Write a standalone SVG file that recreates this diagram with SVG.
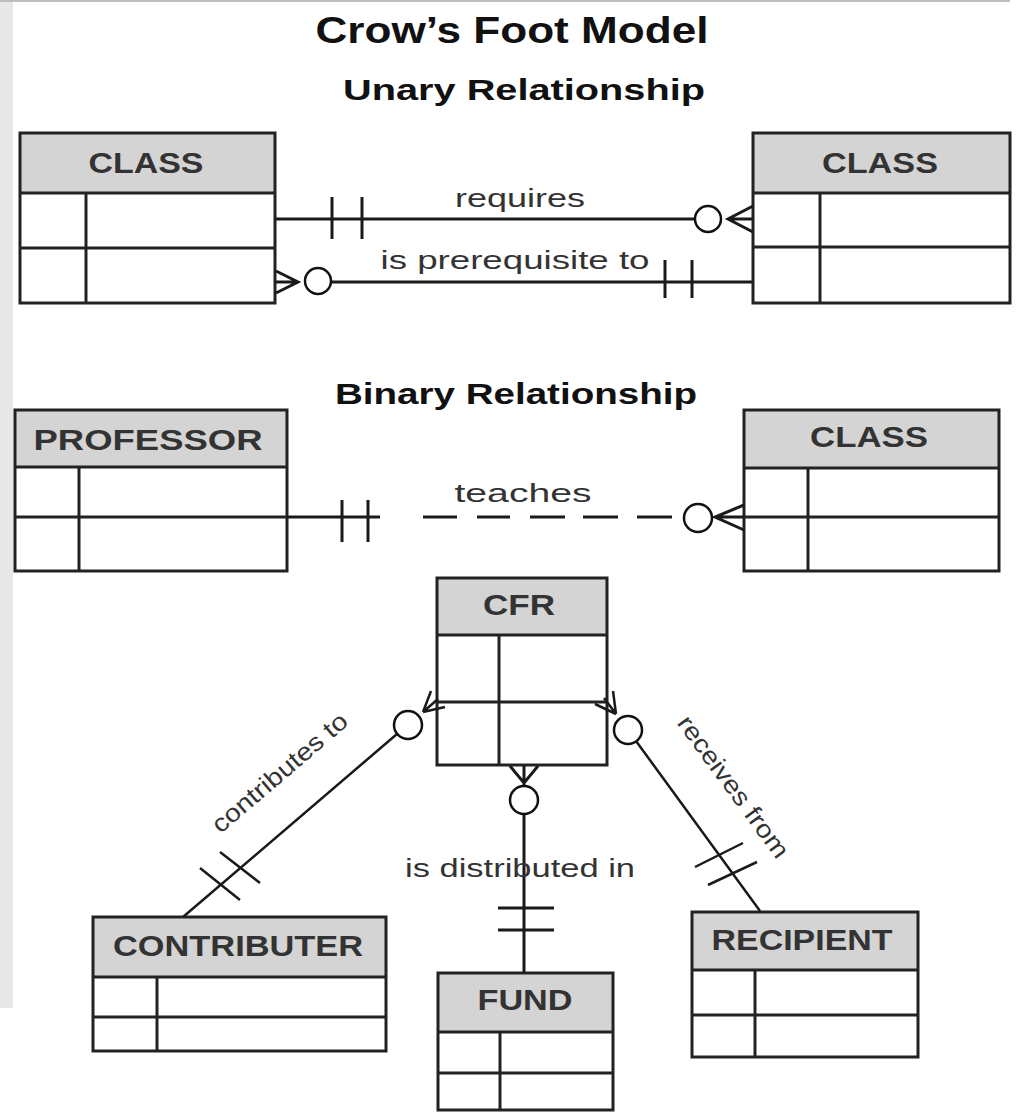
<svg xmlns="http://www.w3.org/2000/svg" width="1021" height="1115" viewBox="0 0 1021 1115">
<style>
.bg{fill:#fff}
.hdr{fill:#d4d4d4;stroke:none}
.body{fill:#fff;stroke:none}
.bx{fill:none;stroke:#222;stroke-width:3}
.ln{stroke:#222;stroke-width:3}
.conn{stroke:#1a1a1a;stroke-width:3;fill:none}
.thin{stroke:#1a1a1a;stroke-width:2.5;fill:none}
.circ{fill:#fff;stroke:#111;stroke-width:2.5}
.title{font-family:"Liberation Sans",Arial,sans-serif;font-weight:bold;fill:#111;text-anchor:middle}
.ent{font-family:"Liberation Sans",Arial,sans-serif;font-weight:bold;font-size:29px;fill:#333;text-anchor:middle}
.lbl{font-family:"Liberation Sans",Arial,sans-serif;font-size:25px;fill:#333;text-anchor:middle}
</style>
<rect class="bg" x="0" y="0" width="1021" height="1115"/>
<rect x="0" y="0" width="13" height="1008" fill="#e8e8e8"/>
<rect x="0" y="0" width="1010" height="2" fill="#bdbdbd"/>

<g id="titles">
<text class="title" x="512" y="43" font-size="36" textLength="393" lengthAdjust="spacingAndGlyphs">Crow’s Foot Model</text>
<text class="title" x="524" y="100" font-size="30" textLength="362" lengthAdjust="spacingAndGlyphs">Unary Relationship</text>
<text class="title" x="516" y="404" font-size="30" textLength="362" lengthAdjust="spacingAndGlyphs">Binary Relationship</text>
</g>

<g id="class-unary-left">
<rect class="hdr" x="20" y="133" width="255" height="60"/>
<rect class="bx" x="20" y="133" width="255" height="170"/>
<line class="ln" x1="20" y1="193" x2="275" y2="193"/>
<line class="ln" x1="20" y1="248" x2="275" y2="248"/>
<line class="ln" x1="86" y1="193" x2="86" y2="303"/>
<text class="ent" x="146" y="173" textLength="115" lengthAdjust="spacingAndGlyphs">CLASS</text>
</g>

<g id="class-unary-right">
<rect class="hdr" x="753" y="133" width="257" height="60"/>
<rect class="bx" x="753" y="133" width="257" height="170"/>
<line class="ln" x1="753" y1="193" x2="1010" y2="193"/>
<line class="ln" x1="753" y1="247" x2="1010" y2="247"/>
<line class="ln" x1="820" y1="193" x2="820" y2="303"/>
<text class="ent" x="880" y="173" textLength="116" lengthAdjust="spacingAndGlyphs">CLASS</text>
</g>

<g id="professor">
<rect class="hdr" x="15" y="410" width="272" height="57"/>
<rect class="bx" x="15" y="410" width="272" height="161"/>
<line class="ln" x1="15" y1="467" x2="287" y2="467"/>
<line class="ln" x1="15" y1="517" x2="287" y2="517"/>
<line class="ln" x1="79" y1="467" x2="79" y2="571"/>
<text class="ent" x="148" y="450" textLength="229" lengthAdjust="spacingAndGlyphs">PROFESSOR</text>
</g>

<g id="class-binary">
<rect class="hdr" x="744" y="410" width="255" height="58"/>
<rect class="bx" x="744" y="410" width="255" height="161"/>
<line class="ln" x1="744" y1="468" x2="999" y2="468"/>
<line class="ln" x1="744" y1="517" x2="999" y2="517"/>
<line class="ln" x1="808" y1="468" x2="808" y2="571"/>
<text class="ent" x="869" y="447" textLength="118" lengthAdjust="spacingAndGlyphs">CLASS</text>
</g>

<g id="cfr">
<rect class="hdr" x="437" y="578" width="170" height="57"/>
<rect class="bx" x="437" y="578" width="170" height="187"/>
<line class="ln" x1="437" y1="635" x2="607" y2="635"/>
<line class="ln" x1="437" y1="702" x2="607" y2="702"/>
<line class="ln" x1="499" y1="635" x2="499" y2="765"/>
<text class="ent" x="519" y="615" textLength="72" lengthAdjust="spacingAndGlyphs">CFR</text>
</g>

<g id="contributer">
<rect class="hdr" x="93" y="917" width="293" height="60"/>
<rect class="bx" x="93" y="917" width="293" height="134"/>
<line class="ln" x1="93" y1="977" x2="386" y2="977"/>
<line class="ln" x1="93" y1="1017" x2="386" y2="1017"/>
<line class="ln" x1="157" y1="977" x2="157" y2="1051"/>
<text class="ent" x="238" y="956" textLength="250" lengthAdjust="spacingAndGlyphs">CONTRIBUTER</text>
</g>

<g id="fund">
<rect class="hdr" x="438" y="973" width="175" height="59"/>
<rect class="bx" x="438" y="973" width="175" height="137"/>
<line class="ln" x1="438" y1="1032" x2="613" y2="1032"/>
<line class="ln" x1="438" y1="1073" x2="613" y2="1073"/>
<line class="ln" x1="500" y1="1032" x2="500" y2="1110"/>
<text class="ent" x="525" y="1010" textLength="95" lengthAdjust="spacingAndGlyphs">FUND</text>
</g>

<g id="recipient">
<rect class="hdr" x="692" y="912" width="226" height="58"/>
<rect class="bx" x="692" y="912" width="226" height="145"/>
<line class="ln" x1="692" y1="970" x2="918" y2="970"/>
<line class="ln" x1="692" y1="1015" x2="918" y2="1015"/>
<line class="ln" x1="755" y1="970" x2="755" y2="1057"/>
<text class="ent" x="802" y="950" textLength="181" lengthAdjust="spacingAndGlyphs">RECIPIENT</text>
</g>

<g id="connectors">
<!-- requires -->
<path class="conn" d="M275 219 H695 M332 197 V239 M362 197 V239 M753 206 L728 219 L753 232 M728 219 H753"/>
<circle class="circ" cx="708" cy="219" r="13"/>
<!-- is prerequisite to -->
<path class="conn" d="M331 282 H753 M665 260 V298 M692 260 V298 M276 271 L298 282 L276 293 M276 282 H298"/>
<circle class="circ" cx="318" cy="281" r="13"/>
<!-- teaches -->
<path class="conn" d="M287 517 H380 M342 500 V542 M368 500 V542"/>
<path class="conn" d="M423 517 H457 M477 517 H510 M530 517 H565 M583 517 H618 M637 517 H672"/>
<path class="conn" d="M744 505 L715 517 L744 530 M715 517 H744"/>
<circle class="circ" cx="698" cy="518" r="14"/>
<!-- contributes to -->
<path class="thin" d="M183 917 L397 734 M220 852 L260 883 M200 868 L240 900 M423 712 L431 691 M423 712 L438 699 M423 712 L445 707"/>
<circle class="circ" cx="408" cy="725" r="14"/>
<!-- is distributed in -->
<path class="conn" d="M524 814 V973 M498 908 H554 M498 930 H554 M510 766 L524 783 L538 766 M524 766 V786"/>
<circle class="circ" cx="524" cy="800" r="14"/>
<!-- receives from -->
<path class="thin" d="M636 741 L760 911 M695 867 L743 843 M708 885 L757 862 M616 714 L613 691 M616 714 L604 698 M616 714 L595 704"/>
<circle class="circ" cx="628" cy="730" r="14"/>
</g>

<g id="labels">
<text class="lbl" x="520" y="207" textLength="130" lengthAdjust="spacingAndGlyphs">requires</text>
<text class="lbl" x="515" y="269" textLength="269" lengthAdjust="spacingAndGlyphs">is prerequisite to</text>
<text class="lbl" x="523" y="502" font-size="27" fill="#111" textLength="137" lengthAdjust="spacingAndGlyphs">teaches</text>
<text class="lbl" x="520" y="877" textLength="230" lengthAdjust="spacingAndGlyphs">is distributed in</text>
<text class="lbl" transform="translate(280,773) rotate(-40.5)" x="0" y="8" textLength="170" lengthAdjust="spacingAndGlyphs">contributes to</text>
<text class="lbl" transform="translate(733,787) rotate(53.7)" x="0" y="8" textLength="170" lengthAdjust="spacingAndGlyphs">receives from</text>
</g>
</svg>
